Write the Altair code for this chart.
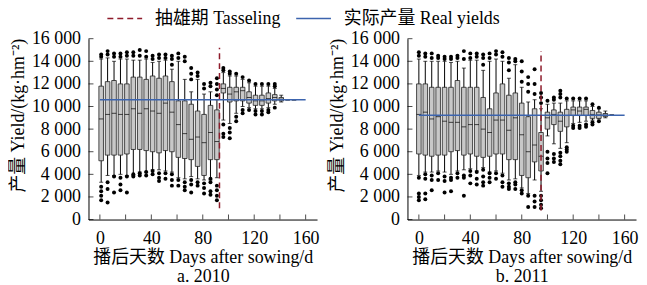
import altair as alt
import pandas as pd

# ---------------- data: 2010 ----------------
days10 = [1, 6, 11, 16, 21, 26, 31, 36, 41, 46, 51, 56, 61, 66, 71, 76, 81, 86, 91,
          96, 101, 106, 111, 116, 121, 126, 131, 136, 141, 146, 151]
wl10 = [3300, 3900, 3900, 4000, 3900, 3900, 4200, 4200, 4400, 4400, 4300, 4200, 3700, 3600, 3800, 3600, 3500, 3500, 3700,
        8800, 8500, 9400, 10000, 9900, 9800, 9800, 9900, 10200, 10400, 10600, 10600]
q1_10 = [5200, 5700, 5700, 5700, 5800, 6200, 6200, 6100, 6000, 5900, 6100, 6000, 5500, 5400, 5300, 4700, 3900, 5300, 5300,
         11200, 10400, 10500, 10500, 10300, 10100, 10100, 10300, 10500, 10500, 10600, 10600]
med10 = [8900, 9300, 9400, 9300, 9300, 9800, 9400, 9800, 9600, 9400, 10300, 9500, 8400, 7600, 7100, 7300, 6800, 7700, 6900,
         11600, 11100, 11300, 11400, 10800, 10500, 10500, 10700, 10800, 10650, 10600, 10600]
q3_10 = [11800, 12200, 12300, 12000, 12000, 12600, 12600, 12400, 12700, 12500, 12700, 12200, 10500, 10500, 10200, 9600, 9300, 10100, 9700,
         12000, 11700, 11700, 11700, 11300, 11000, 11000, 11200, 11050, 10800, 10600, 10600]
wh10 = [14200, 14300, 14000, 14200, 14200, 14100, 14100, 14200, 13900, 14000, 14100, 13300, 14000, 12400, 11300, 12400, 11100, 11300, 10600,
        13000, 12700, 12700, 12400, 12100, 11800, 11800, 11800, 11600, 11000, 10600, 10600]
out10 = [
    [14400, 14600, 2900, 2500, 2100, 1700],
    [14600, 14900, 3300, 2700, 1500],
    [14400, 14700, 3800, 2400],
    [14400, 14700, 3700, 3100, 2600],
    [14500, 14800, 3800, 2400],
    [14500, 14800, 4000, 3800],
    [14500, 15000, 4100, 3900],
    [14400, 14900, 4200, 3900],
    [14200, 14500, 4300, 4000],
    [14300, 14600, 4100, 3700, 3400],
    [14300, 14600, 4100, 3600],
    [13700, 14200, 14500, 4000, 3500, 3000],
    [14300, 14700, 3500, 3000],
    [14000, 14400, 3300, 2900, 2600],
    [12400, 12900, 13400, 3500, 3100, 2400],
    [12700, 13000, 3300, 3000],
    [11600, 12000, 3200, 2800, 2300],
    [11800, 12100, 3600, 3300, 2500, 2200],
    [11000, 11500, 12000, 12500, 3000, 2600, 2100, 1700],
    [13200, 13400, 8400, 7600, 7300],
    [12900, 13100, 8100, 7700, 7200],
    [12900, 9100, 8700],
    [12600, 9700, 9400],
    [12300, 9700],
    [12000, 9600, 9300],
    [12000, 9600, 9300],
    [12000, 9700, 9500],
    [11800, 12000, 9900],
    [], [], [],
]
tassel10 = [93, 1000, 15200]
real10 = 10600

# ---------------- data: 2011 ----------------
days11 = [0, 5, 10, 15, 20, 25, 30, 35, 40, 45, 50, 55, 60, 65, 70, 75, 80, 85, 90,
          95, 100, 105, 110, 115, 120, 125, 130, 135, 140, 145, 150]
wl11 = [3900, 4200, 4200, 4300, 4200, 4000, 4300, 4400, 4500, 4300, 4600, 4200, 4300, 4100, 3500, 3600, 2800, 2300, 3500,
        2500, 7400, 6700, 6300, 6800, 8500, 8600, 8700, 8800, 8900, 9000, 9230]
q1_11 = [5800, 5700, 5600, 5700, 5700, 6000, 6100, 5700, 5800, 5600, 5500, 5600, 5800, 5800, 5300, 5300, 3900, 3700, 5100,
         4300, 8000, 8400, 7800, 8200, 9200, 9200, 9200, 8950, 8950, 9100, 9230]
med11 = [9300, 9500, 8900, 9100, 8700, 8600, 8600, 8200, 8400, 8400, 8000, 7700, 8800, 8800, 7900, 9000, 7500, 6000, 6600,
         5600, 9000, 9300, 8700, 9200, 9700, 9600, 9750, 9300, 9250, 9230, 9230]
q3_11 = [12000, 12000, 11700, 11700, 11700, 11700, 12300, 11700, 11700, 11700, 10800, 9800, 11200, 12000, 11000, 11200, 10300, 9100, 9800,
         7700, 9500, 9700, 9500, 9750, 9950, 9950, 9950, 9650, 9500, 9380, 9230]
wh11 = [14200, 14000, 14000, 14000, 14000, 13900, 14000, 13400, 14100, 14100, 13200, 14000, 14200, 14000, 12500, 13700, 11700, 10400, 10600,
        9800, 10200, 10300, 10300, 10500, 10500, 10500, 10500, 10000, 9800, 9600, 9230]
out11 = [
    [14500, 14800, 3700, 2300, 2000, 1700],
    [14400, 14700, 4000, 3600, 2300, 1800],
    [14300, 14700, 3900, 3500, 2600],
    [14300, 14500, 4100, 3500],
    [14200, 14400, 3800, 3400, 2400],
    [14200, 14400, 3700, 3500, 2500],
    [14300, 14500, 4100, 3700],
    [14200, 14900, 3900, 3700, 2100],
    [14300, 14700, 4300, 3900, 3200],
    [14400, 14700, 4200, 3600, 3100],
    [13700, 14300, 14600, 4400, 3800, 3300, 3000],
    [14300, 14700, 4100, 3700, 3300],
    [14600, 14900, 4100, 3600],
    [14400, 14800, 3900, 3300, 2900],
    [13200, 13900, 14300, 3200, 2900, 2700],
    [14000, 14200, 3300, 3100, 2700],
    [12200, 13100, 14000, 2600, 2300],
    [11300, 12000, 12600, 2100, 1100],
    [11100, 12000, 13300, 2100, 1600, 1100],
    [10300, 10800, 11200, 2100, 1700, 1300, 1000],
    [10500, 6000, 5400, 5000, 4100],
    [10600, 10800, 5800, 5400, 5100],
    [10800, 11100, 11400, 5900, 5600, 5200, 4900],
    [10700, 6400, 6200, 6000],
    [10700, 8300, 8100],
    [10700, 8300, 8100],
    [10700, 8400, 8200],
    [10200, 8600, 8400],
    [9900, 8700],
    [], [],
]
tassel11 = [95, 800, 14900]
real11 = 9230

x_ticks = [0, 20, 40, 60, 80, 100, 120, 140, 160]
y_ticks = [0, 2000, 4000, 6000, 8000, 10000, 12000, 14000, 16000]
series = ["抽雄期 Tasseling", "实际产量 Real yields"]
real_span = [0, 160]

FONT = "'Liberation Serif', 'Noto Sans CJK SC', serif"
W, H = 230, 182
BOXW = 4.6

cscale = alt.Scale(domain=series, range=["#8e1b2b", "#3c64ae"])
dscale = alt.Scale(domain=series, range=[[6, 4], [1, 0]])


def panel(days, wl, q1, med, q3, wh, outs, tassel, real, caption):
    box = pd.DataFrame(dict(day=days, wl=wl, q1=q1, med=med, q3=q3, wh=wh))
    out = pd.DataFrame([(d, v) for d, vs in zip(days, outs) for v in vs], columns=["day", "v"])
    xs = alt.Scale(domain=[-5, 165], nice=False, zero=False)
    ys = alt.Scale(domain=[0, 16000], nice=False)
    xax = alt.Axis(values=x_ticks, labelExpr="datum.value % 40 == 0 ? datum.label : ''",
                   title=["播后天数 Days after sowing/d", caption], titleLineHeight=19,
                   labelPadding=10, titlePadding=1, labelFlush=False)
    yax = alt.Axis(values=y_ticks, labelExpr="replace(format(datum.value, ','), ',', ' ')",
                   title="产量 Yield/(kg·hm⁻²)", labelPadding=8,
                   titleX=-70, titleY=77, titleAlign="center", titleBaseline="middle", titleAngle=270)
    X = alt.X("day:Q", scale=xs, axis=xax)

    def Y(f):
        return alt.Y(f + ":Q", scale=ys, axis=yax)

    leg = alt.Legend(title=None, orient="none", legendX=27, legendY=-30, direction="horizontal",
                     symbolType="M-2,0H2", symbolSize=306, symbolStrokeWidth=1.5,
                     labelFont=FONT, labelFontSize=18, labelColor="black", labelOffset=21,
                     columnPadding=12, padding=0, labelLimit=400)
    col = alt.Color("s:N", scale=cscale, legend=leg)
    dash = alt.StrokeDash("s:N", scale=dscale, legend=leg)

    ytk = alt.Chart(pd.DataFrame({"v": y_ticks})).mark_tick(
        orient="horizontal", size=5, thickness=1, color="black").encode(y=Y("v"), x=alt.value(2.5))
    xtk = alt.Chart(pd.DataFrame({"day": x_ticks})).mark_tick(
        orient="vertical", size=5, thickness=1, color="black").encode(x=X, y=alt.value(H - 2.5))
    base = alt.Chart(box)
    whisk = base.mark_rule(color="black", strokeWidth=1).encode(x=X, y=Y("wl"), y2="wh")
    cap_lo = base.mark_tick(orient="horizontal", size=4, thickness=1, color="black").encode(x=X, y=Y("wl"))
    cap_hi = base.mark_tick(orient="horizontal", size=4, thickness=1, color="black").encode(x=X, y=Y("wh"))
    boxes = base.mark_bar(size=BOXW, fill="#c8c8c8", stroke="#222222", strokeWidth=0.8).encode(
        x=X, y=Y("q1"), y2="q3")
    meds = base.mark_tick(orient="horizontal", size=BOXW, thickness=1, color="black").encode(x=X, y=Y("med"))
    pts = alt.Chart(out).mark_circle(size=16, color="black", opacity=1).encode(x=X, y=Y("v"))
    rl = alt.Chart(pd.DataFrame({"day": real_span, "v": [real, real], "s": [series[1]] * 2})).mark_line(
        strokeWidth=1.5).encode(x=X, y=Y("v"), color=col, strokeDash=dash)
    ts = alt.Chart(pd.DataFrame({"day": [tassel[0]], "v": [tassel[1]], "v2": [tassel[2]], "s": [series[0]]})).mark_rule(
        strokeWidth=1.5).encode(x=X, y=Y("v"), y2="v2", color=col, strokeDash=dash)
    return alt.layer(ytk, xtk, whisk, cap_lo, cap_hi, boxes, meds, pts, rl, ts).properties(width=W, height=H)


p1 = panel(days10, wl10, q1_10, med10, q3_10, wh10, out10, tassel10, real10, "a. 2010")
p2 = panel(days11, wl11, q1_11, med11, q3_11, wh11, out11, tassel11, real11, "b. 2011")

chart = alt.hconcat(p1, p2, spacing=9).properties(
    padding={"left": 2, "top": 0, "right": 0, "bottom": 0}
).configure_view(stroke=None).configure_axis(
    domainColor="black", domainWidth=1, ticks=False, tickSize=0, grid=False,
    labelFont=FONT, titleFont=FONT, labelFontSize=18, titleFontSize=18,
    labelColor="black", titleColor="black", titleFontWeight="normal"
)

chart.save("out.html", embed_options={"renderer": "svg", "actions": False})
